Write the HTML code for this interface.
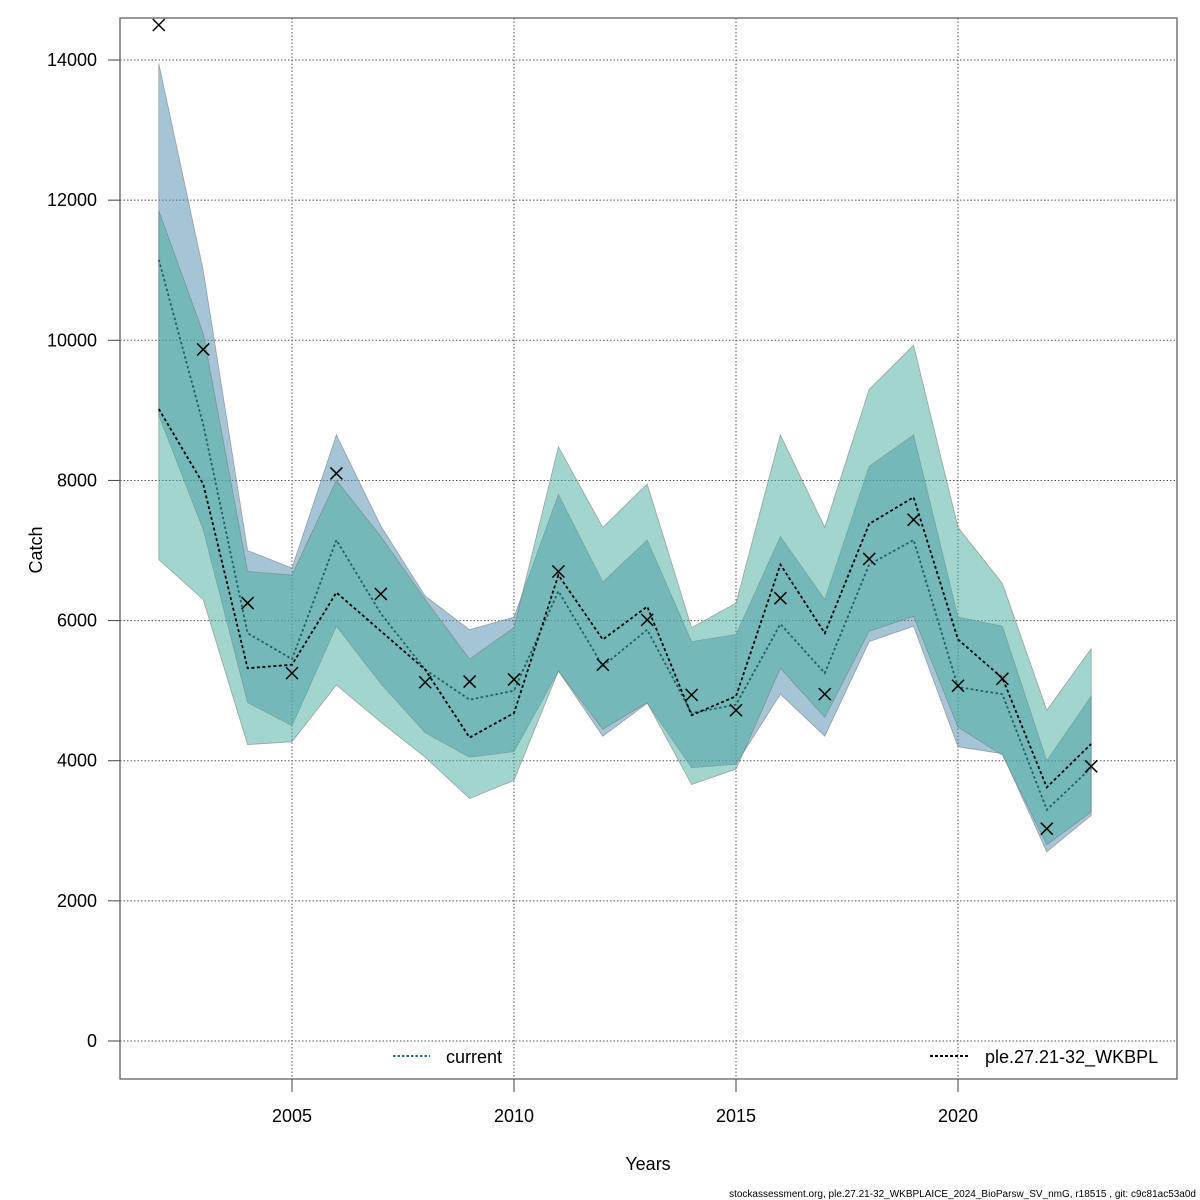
<!DOCTYPE html>
<html><head><meta charset="utf-8"><style>
body{margin:0;background:#fff}
svg{display:block;font-family:"Liberation Sans",sans-serif}
</style></head><body>
<svg id="chart" width="1200" height="1200" viewBox="0 0 1200 1200"></svg>
<script>
const years=[2002,2003,2004,2005,2006,2007,2008,2009,2010,2011,2012,2013,2014,2015,2016,2017,2018,2019,2020,2021,2022,2023];
const curUpper=[13950,11000,7000,6750,8650,7350,6350,5870,6050,7800,6550,7150,5700,5800,7200,6300,8200,8650,6050,5920,4000,4920];
const curLower=[8930,7300,4830,4500,5920,5100,4400,4050,4130,5280,4350,4820,3900,3950,4950,4350,5700,5920,4200,4100,2700,3220];
const curMid=[11150,8800,5820,5450,7150,6100,5300,4870,5000,6420,5350,5870,4680,4800,5950,5250,6800,7150,5050,4950,3300,3900];
const altUpper=[11850,10100,6700,6650,8000,7200,6300,5450,5900,8480,7330,7950,5900,6250,8650,7330,9300,9930,7330,6530,4720,5600];
const altLower=[6870,6300,4230,4270,5080,4550,4050,3460,3720,5280,4450,4830,3660,3880,5320,4620,5850,6060,4480,4080,2800,3270];
const altMid=[9020,7950,5320,5370,6400,5850,5300,4330,4680,6650,5730,6200,4650,4920,6800,5820,7380,7760,5730,5180,3620,4240];
const observed=[14500,9870,6250,5250,8100,6380,5120,5130,5160,6700,5370,6010,4940,4720,6320,4950,6880,7440,5070,5170,3030,3920];
const yTicks=[0,2000,4000,6000,8000,10000,12000,14000];
const xTicks=[2005,2010,2015,2020];

const NS="http://www.w3.org/2000/svg";
const svg=document.getElementById('chart');
const L=120,R=1177,T=18,B=1079;
const X=y=>158.8+(y-2002)*44.4;
const Y=v=>1041-v*0.07007;
function mk(tag,attrs,parent){const e=document.createElementNS(NS,tag);for(const k in attrs)e.setAttribute(k,attrs[k]);(parent||svg).appendChild(e);return e;}

// grid
yTicks.forEach(v=>{
  const g=mk('line',{x1:L,x2:R,y1:Y(v),y2:Y(v),stroke:'#555','stroke-width':1,'stroke-dasharray':'1.5,2'});
  
  
  const t=mk('line',{x1:108,x2:L,y1:Y(v),y2:Y(v),stroke:'#444','stroke-width':1});
  
  
  const lb=mk('text',{x:97,y:Y(v)+6,'text-anchor':'end','font-size':18,fill:'#000'});
  lb.textContent=v;
  
  
});
xTicks.forEach(v=>{
  const g=mk('line',{x1:X(v),x2:X(v),y1:T,y2:B,stroke:'#555','stroke-width':1,'stroke-dasharray':'1.5,2'});
  
  
  const t=mk('line',{x1:X(v),x2:X(v),y1:B,y2:1092,stroke:'#444','stroke-width':1});
  
  
  const lb=mk('text',{x:X(v),y:1122,'text-anchor':'middle','font-size':18,fill:'#000'});
  lb.textContent=v;
  
  
});

function band(up,lo,fill,name){
  let pts=years.map((y,i)=>X(y)+','+Y(up[i]));
  for(let i=years.length-1;i>=0;i--)pts.push(X(years[i])+','+Y(lo[i]));
  const p=mk('polygon',{points:pts.join(' '),fill:fill,'fill-opacity':0.5,stroke:'#777','stroke-width':0.8,'stroke-opacity':0.6});
  
  
}
band(curUpper,curLower,'rgb(75,139,173)','current-ci-band');
band(altUpper,altLower,'rgb(69,171,155)','wkbpl-ci-band');

function line(vals,color,dash,name){
  const p=mk('polyline',{points:years.map((y,i)=>X(y)+','+Y(vals[i])).join(' '),fill:'none',stroke:color,'stroke-width':1.8,'stroke-dasharray':dash});
  
  
}
line(curMid,'#1f5f6a','2.5,2.5','current-line');
line(altMid,'#000','3,2.5','wkbpl-line');

observed.forEach((v,i)=>{
  const x=X(years[i]),y=Y(v),s=6;
  const g=mk('path',{d:`M${x-s},${y-s}L${x+s},${y+s}M${x-s},${y+s}L${x+s},${y-s}`,stroke:'#000','stroke-width':1.5,fill:'none'});
  
  
});

// frame
const fr=mk('rect',{x:L,y:T,width:R-L,height:B-T,fill:'none',stroke:'#555','stroke-width':1.2});



// legend
const l1=mk('line',{x1:393,x2:430,y1:1056,y2:1056,stroke:'#1f6f9a','stroke-width':2,'stroke-dasharray':'2.5,2'});


const t1=mk('text',{x:446,y:1063,'font-size':18,fill:'#000'});t1.textContent='current';


const l2=mk('line',{x1:930,x2:968,y1:1056,y2:1056,stroke:'#000','stroke-width':2,'stroke-dasharray':'3,2'});


const t2=mk('text',{x:985,y:1063,'font-size':18,fill:'#000'});t2.textContent='ple.27.21-32_WKBPL';



const xt=mk('text',{x:648,y:1170,'text-anchor':'middle','font-size':18,fill:'#000'});xt.textContent='Years';


const yt=mk('text',{x:42,y:550,'text-anchor':'middle','font-size':18,fill:'#000',transform:'rotate(-90 42 550)'});yt.textContent='Catch';


const ft=mk('text',{x:1196,y:1197,'text-anchor':'end','font-size':10,fill:'#000'});
ft.textContent='stockassessment.org, ple.27.21-32_WKBPLAICE_2024_BioParsw_SV_nmG, r18515 , git: c9c81ac53a0d';


</script>
</body></html>
